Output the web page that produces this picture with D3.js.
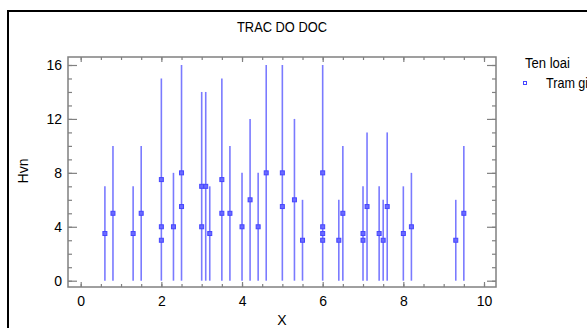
<!DOCTYPE html>
<html lang="en">
<head>
    <meta charset="UTF-8">
    <title>TRAC DO DOC</title>
    <style>
        body { margin: 0; background: #fff; }
        svg { display: block; }
        text { font-family: "Liberation Sans", Arial, sans-serif; fill: #000; }
        .axis path { display: none; }
        .axis line { stroke: #808080; stroke-width: 1.2px; }
        .axis text { font-size: 14px; }
        .stem { stroke: #7a7aff; stroke-width: 1.6px; }
        .pt { fill: #6a6aff; stroke: #4646ff; stroke-width: 1px; }
    </style>
</head>
<body>
    <script src="https://d3js.org/d3.v7.min.js"></script>
    <script>
        // vertical stems: position and top of each line
        const stemX   = [0.6, 0.8, 1.3, 1.5, 2.0, 2.3, 2.5, 3.0, 3.1, 3.2, 3.5, 3.7, 4.0, 4.2, 4.4, 4.6,
                         5.0, 5.3, 5.5, 6.0, 6.4, 6.5, 7.0, 7.1, 7.4, 7.5, 7.6, 8.0, 8.2, 9.3, 9.5];
        const stemTop = [7, 10, 7, 10, 15, 8, 16, 14, 14, 7, 15, 10, 8, 12, 8, 16,
                         16, 12, 6, 16, 6, 10, 7, 11, 7, 6, 11, 7, 8, 6, 10];

        // square markers
        const pointX = [0.6, 0.8, 1.3, 1.5, 2, 2, 2, 2.3, 2.5, 2.5, 3, 3, 3.1, 3.2, 3.5, 3.5, 3.7, 4, 4.2, 4.4, 4.6,
                        5, 5, 5.3, 5.5, 6, 6, 6, 6, 6.4, 6.5, 7, 7, 7.1, 7.4, 7.5, 7.6, 8, 8.2, 9.3, 9.5];
        const pointY = [3.5, 5, 3.5, 5, 7.5, 4, 3, 4, 8, 5.5, 7, 4, 7, 3.5, 7.5, 5, 5, 4, 6, 4, 8,
                        8, 5.5, 6, 3, 8, 4, 3.5, 3, 3, 5, 3.5, 3, 5.5, 3.5, 3, 5.5, 3.5, 4, 3, 5];

        const xTicks = [0, 2, 4, 6, 8, 10];
        const yTicks = [0, 4, 8, 12, 16];
        const legendTitle = "Ten loai";
        const legendItem = "Tram giong";

        const W = 587, H = 328;
        const frame = {left: 68, top: 57, right: 496, bottom: 287};

        const svg = d3.select("body").append("svg")
            .attr("width", W)
            .attr("height", H);

        // outer border (runs off the right and bottom)
        svg.append("rect")
            .attr("x", 8).attr("y", 11)
            .attr("width", W + 20).attr("height", H + 20)
            .attr("fill", "none")
            .attr("stroke", "#000")
            .attr("stroke-width", 2);

        const x = d3.scaleLinear().domain([0, 10]).range([80.7, 484]);
        const y = d3.scaleLinear().domain([0, 16]).range([280.7, 65]);

        // plot frame
        svg.append("rect")
            .attr("x", frame.left).attr("y", frame.top)
            .attr("width", frame.right - frame.left)
            .attr("height", frame.bottom - frame.top)
            .attr("fill", "none")
            .attr("stroke", "#808080")
            .attr("stroke-width", 1.5);

        const minorX = d3.range(0, 10.01, 0.5);
        const minorY = d3.range(0, 16.01, 1);

        // bottom
        svg.append("g").attr("class", "axis")
            .attr("transform", `translate(0,${frame.bottom})`)
            .call(d3.axisBottom(x).tickValues(minorX).tickSize(-3).tickFormat(""));
        svg.append("g").attr("class", "axis")
            .attr("transform", `translate(0,${frame.bottom})`)
            .call(d3.axisBottom(x).tickValues(xTicks).tickSize(-5).tickPadding(9).tickFormat(d3.format("d")));
        // top
        svg.append("g").attr("class", "axis")
            .attr("transform", `translate(0,${frame.top})`)
            .call(d3.axisTop(x).tickValues(minorX).tickSize(-3).tickFormat(""));
        svg.append("g").attr("class", "axis")
            .attr("transform", `translate(0,${frame.top})`)
            .call(d3.axisTop(x).tickValues(xTicks).tickSize(-5).tickFormat(""));
        // left
        svg.append("g").attr("class", "axis")
            .attr("transform", `translate(${frame.left},0)`)
            .call(d3.axisLeft(y).tickValues(minorY).tickSize(-4).tickFormat(""));
        svg.append("g").attr("class", "axis")
            .attr("transform", `translate(${frame.left},0)`)
            .call(d3.axisLeft(y).tickValues(yTicks).tickSize(-9).tickPadding(6).tickFormat(d3.format("d")));
        // right
        svg.append("g").attr("class", "axis")
            .attr("transform", `translate(${frame.right},0)`)
            .call(d3.axisRight(y).tickValues(minorY).tickSize(-4).tickFormat(""));
        svg.append("g").attr("class", "axis")
            .attr("transform", `translate(${frame.right},0)`)
            .call(d3.axisRight(y).tickValues(yTicks).tickSize(-9).tickFormat(""));

        // stems from 0 up to top value
        svg.append("g").selectAll("line")
            .data(stemX.map((d, i) => ({x: d, top: stemTop[i]})))
            .join("line")
            .attr("class", "stem")
            .attr("x1", d => x(d.x)).attr("x2", d => x(d.x))
            .attr("y1", y(0)).attr("y2", d => y(d.top));

        // markers
        svg.append("g").selectAll("rect")
            .data(pointX.map((d, i) => ({x: d, y: pointY[i]})))
            .join("rect")
            .attr("class", "pt")
            .attr("x", d => x(d.x) - 2).attr("y", d => y(d.y) - 2)
            .attr("width", 4).attr("height", 4);

        // title and axis labels
        svg.append("text")
            .attr("x", 282).attr("y", 32)
            .attr("text-anchor", "middle")
            .attr("font-size", 14)
            .attr("textLength", 90).attr("lengthAdjust", "spacingAndGlyphs")
            .text("TRAC DO DOC");

        svg.append("text")
            .attr("x", 282).attr("y", 325)
            .attr("text-anchor", "middle")
            .attr("font-size", 14)
            .text("X");

        svg.append("text")
            .attr("transform", "translate(28,171) rotate(-90)")
            .attr("text-anchor", "middle")
            .attr("font-size", 14)
            .text("Hvn");

        // legend
        svg.append("text")
            .attr("x", 525).attr("y", 68)
            .attr("font-size", 14)
            .attr("textLength", 45).attr("lengthAdjust", "spacingAndGlyphs")
            .text(legendTitle);

        svg.append("rect")
            .attr("x", 523.5).attr("y", 81.5)
            .attr("width", 3).attr("height", 3)
            .attr("fill", "#fff")
            .attr("stroke", "#4646ff")
            .attr("stroke-width", 1);

        svg.append("text")
            .attr("x", 546).attr("y", 88)
            .attr("font-size", 14)
            .attr("transform", "translate(54.6,0) scale(0.9,1)")
            .text(legendItem);
    </script>
</body>
</html>
